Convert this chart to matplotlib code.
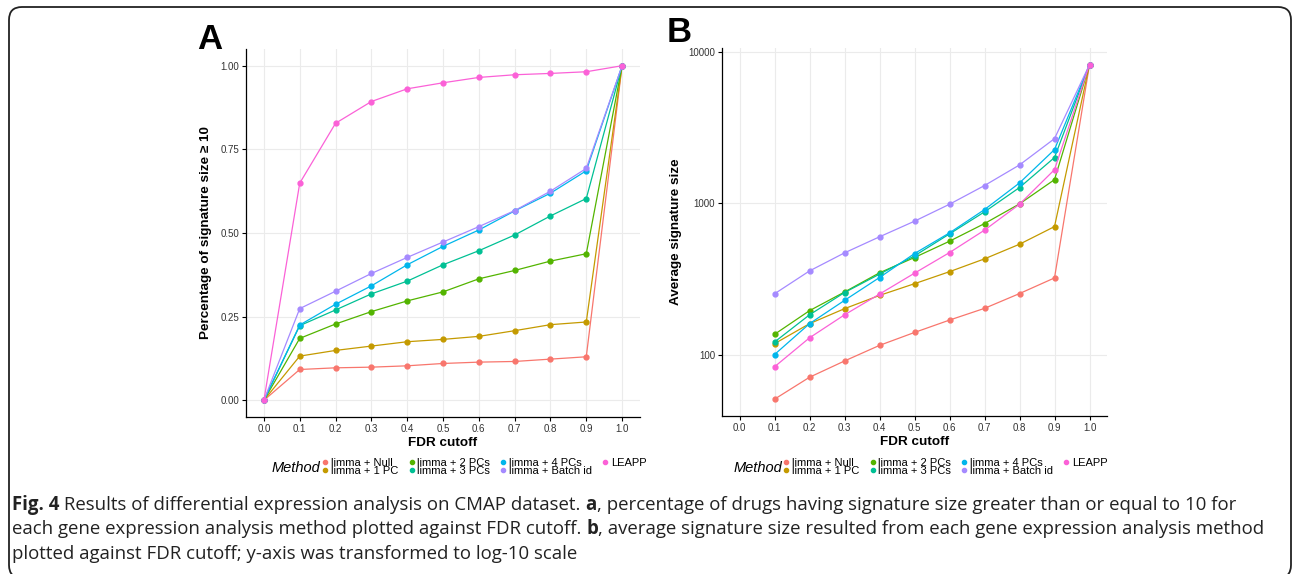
import numpy as np
import matplotlib
matplotlib.use("Agg")
import matplotlib.pyplot as plt
from matplotlib.lines import Line2D
from matplotlib.patches import FancyBboxPatch

# data
fdr = [0.0, 0.1, 0.2, 0.3, 0.4, 0.5, 0.6, 0.7, 0.8, 0.9, 1.0]
methods = ["limma + Null", "limma + 1 PC", "limma + 2 PCs", "limma + 3 PCs",
           "limma + 4 PCs", "limma + Batch id", "LEAPP"]
colors = ["#F8766D", "#C49A00", "#53B400", "#00C094", "#00B6EB", "#A58AFF", "#FB61D7"]

# panel A: fraction of drugs with signature size >= 10
pct_null = [0, 0.092, 0.097, 0.099, 0.103, 0.110, 0.114, 0.116, 0.123, 0.130, 1.0]
pct_1pc = [0, 0.132, 0.149, 0.162, 0.175, 0.182, 0.191, 0.208, 0.226, 0.234, 1.0]
pct_2pc = [0, 0.185, 0.228, 0.265, 0.297, 0.324, 0.363, 0.388, 0.416, 0.438, 1.0]
pct_3pc = [0, 0.223, 0.270, 0.318, 0.356, 0.405, 0.447, 0.494, 0.551, 0.603, 1.0]
pct_4pc = [0, 0.225, 0.287, 0.342, 0.405, 0.460, 0.509, 0.566, 0.619, 0.686, 1.0]
pct_batch = [0, 0.274, 0.326, 0.379, 0.427, 0.473, 0.519, 0.567, 0.625, 0.693, 1.0]
pct_leapp = [0, 0.649, 0.828, 0.893, 0.931, 0.949, 0.965, 0.973, 0.977, 0.982, 1.0]

# panel B: average signature size (no value at FDR 0 on log scale)
fdr_b = fdr[1:]
avg_null = [50.7, 70.8, 90.7, 115, 140, 169, 202, 253, 321, 8240]
avg_1pc = [118, 160, 201, 246, 294, 353, 429, 536, 701, 8240]
avg_2pc = [136, 195, 259, 347, 438, 561, 734, 990, 1432, 8240]
avg_3pc = [121, 183, 257, 340, 449, 627, 877, 1270, 2005, 8240]
avg_4pc = [100, 160, 228, 323, 465, 637, 908, 1362, 2263, 8240]
avg_batch = [252, 357, 470, 600, 761, 985, 1309, 1791, 2673, 8240]
avg_leapp = [83, 129, 183, 251, 345, 472, 664, 985, 1667, 8240]

pct = [pct_null, pct_1pc, pct_2pc, pct_3pc, pct_4pc, pct_batch, pct_leapp]
avg = [avg_null, avg_1pc, avg_2pc, avg_3pc, avg_4pc, avg_batch, avg_leapp]

plt.rcParams['font.family'] = ['Liberation Sans', 'DejaVu Sans']

W, H = 1292, 574
fig = plt.figure(figsize=(W / 100, H / 100), dpi=100)

# rounded frame around the whole figure
frame = FancyBboxPatch((9 / W, 1 - 578 / H), 1282 / W, 571 / H,
                       boxstyle="round,pad=0,rounding_size=0.010",
                       mutation_aspect=W / H,
                       transform=fig.transFigure, fill=False,
                       edgecolor="#222222", linewidth=1.3, clip_on=False)
fig.patches.append(frame)

axA = fig.add_axes([246 / W, 1 - 417 / H, 394 / W, 368 / H])
axB = fig.add_axes([722 / W, 1 - 416 / H, 385 / W, 368 / H])


def style(ax):
    for s in ["top", "right"]:
        ax.spines[s].set_visible(False)
    for s in ["left", "bottom"]:
        ax.spines[s].set_linewidth(0.9)
        ax.spines[s].set_color("black")
    ax.tick_params(axis="both", labelsize=7, length=3, width=0.8,
                   color="black", labelcolor="#333333", pad=2)
    ax.set_xticks(fdr)
    ax.set_xticklabels([f"{v:.1f}" for v in fdr])
    ax.set_xlim(-0.05, 1.05)
    ax.grid(True, which="major", color="#EBEBEB", linewidth=0.8)
    ax.set_axisbelow(True)
    ax.set_xlabel("FDR cutoff", fontsize=9.7, fontweight="bold", labelpad=2)


for ys, c in zip(pct, colors):
    axA.plot(fdr, ys, color=c, linewidth=0.9, marker="o", markersize=3.5)
style(axA)
axA.set_ylim(-0.05, 1.05)
axA.set_yticks([0, 0.25, 0.5, 0.75, 1.0])
axA.set_yticklabels(["0.00", "0.25", "0.50", "0.75", "1.00"])
axA.set_ylabel("Percentage of signature size \u2265 10", fontsize=9.7,
               fontweight="bold", labelpad=6)

for ys, c in zip(avg, colors):
    axB.plot(fdr_b, ys, color=c, linewidth=0.9, marker="o", markersize=3.5)
style(axB)
axB.set_yscale("log")
axB.set_ylim(10 ** 1.594, 10 ** 4.026)
axB.set_yticks([100, 1000, 10000])
axB.set_yticklabels(["100", "1000", "10000"])
axB.minorticks_off()
axB.set_xticks(fdr)
axB.set_ylabel("Average signature size", fontsize=9.7, fontweight="bold")
axB.yaxis.set_label_coords(-0.104, 0.5)

axA.text(-49 / 394, 1.0, "A", transform=axA.transAxes, fontsize=25,
         fontweight="bold", va="baseline", ha="left")
axB.text(-55 / 385, 1.0 + 6 / 368, "B", transform=axB.transAxes, fontsize=25,
         fontweight="bold", va="baseline", ha="left")

handles = [Line2D([], [], linestyle="none", marker="o", markersize=3, color=c)
           for c in colors]

for xm, xl in [(296, 322), (758, 783)]:
    fig.text(xm / W, 1 - 468 / H, "Method", fontsize=10.5, style="italic",
             ha="center", va="center")
    fig.legend(handles, methods, loc="center left",
               bbox_to_anchor=(xl / W, 1 - 467 / H), ncol=4,
               fontsize=8, frameon=False, handlelength=0.6,
               handletextpad=0.2, columnspacing=0.9, labelspacing=-0.15,
               borderpad=0, borderaxespad=0)

cap_font = ['Open Sans', 'DejaVu Sans']
lines = [
    [("Fig. 4", "bold"), (" Results of differential expression analysis on CMAP dataset. ", "normal"),
     ("a", "bold"), (", percentage of drugs having signature size greater than or equal to 10 for", "normal")],
    [("each gene expression analysis method plotted against FDR cutoff. ", "normal"), ("b", "bold"),
     (", average signature size resulted from each gene expression analysis method", "normal")],
    [("plotted against FDR cutoff; y-axis was transformed to log-10 scale", "normal")],
]
fig.canvas.draw()
renderer = fig.canvas.get_renderer()
for i, parts in enumerate(lines):
    x = 12
    y = 1 - (505 + i * 24.5) / H
    for txt, w in parts:
        t = fig.text(x / W, y, txt, fontsize=13.4, fontweight=w,
                     family=cap_font, va="center", ha="left", color="#222222")
        x += t.get_window_extent(renderer).width

fig.savefig("out.png", dpi=100)
